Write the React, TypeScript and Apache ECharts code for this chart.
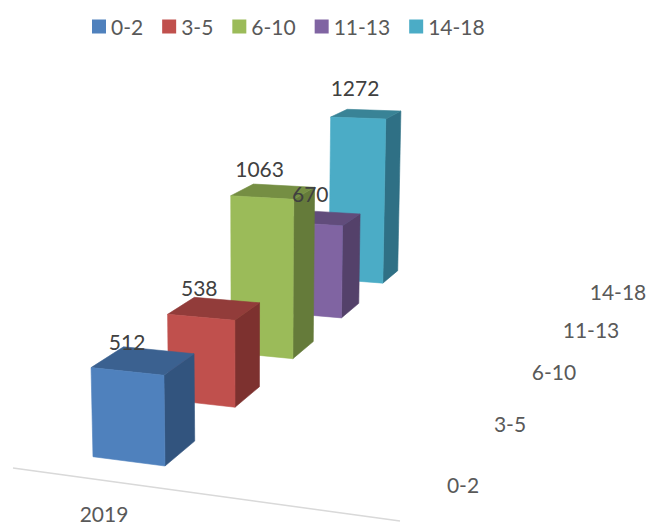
import React, { useEffect, useRef } from "react";
import * as echarts from "echarts";

const seriesNames = ["0-2", "3-5", "6-10", "11-13", "14-18"];
const values2019 = [512, 538, 1063, 670, 1272];
const categoryLabel = "2019";

const frontColors = ["#4F81BD", "#C0504D", "#9BBB59", "#8064A2", "#4BACC6"];
const topColors = ["#3B6190", "#923C3A", "#758E43", "#614C7B", "#398396"];
const sideColors = ["#32547E", "#7D312F", "#657B3A", "#54416A", "#2F7085"];

// Perspective camera fitted to the picture: floor origin and three vanishing points
const origin = [165, 466];
const vpWidth = [-3600, -20];
const vpHeight = [250, 7700];
const vpDepth = [900, -151];
const mWidth = 0.0195;
const mHeight = -1.129e-4;
const mDepth = 0.1053;
const barWidth = 1.0;
const barDepth = 0.4;

function project(x: number, y: number, z: number): number[] {
  const w = 1 + mWidth * x + mHeight * y + mDepth * z;
  const px = origin[0] + mWidth * x * vpWidth[0] + mHeight * y * vpHeight[0] + mDepth * z * vpDepth[0];
  const py = origin[1] + mWidth * x * vpWidth[1] + mHeight * y * vpHeight[1] + mDepth * z * vpDepth[1];
  return [px / w, py / w];
}

const FONT = "Lato, Carlito, Calibri, sans-serif";

function renderBar(seriesIdx: number) {
  return (_params: any, api: any) => {
    const z = api.value(0) as number;
    const value = api.value(1) as number;
    const h = api.size([0, value])[1] as number;
    const z1 = z + barDepth;
    const ftl = project(barWidth, h, z);
    const ftr = project(0, h, z);
    const fbl = project(barWidth, 0, z);
    const fbr = project(0, 0, z);
    const btl = project(barWidth, h, z1);
    const btr = project(0, h, z1);
    const bbr = project(0, 0, z1);
    const topCenter = project(barWidth / 2, h, z + barDepth / 2);
    const layer = (5 - seriesIdx) * 10;
    const face = (points: number[][], color: string, z2: number) => ({
      type: "polygon",
      z2,
      shape: { points },
      style: { fill: color, stroke: color, lineWidth: 0.6 },
    });
    return {
      type: "group",
      children: [
        face([ftr, btr, bbr, fbr], sideColors[seriesIdx], layer),
        face([ftl, btl, btr, ftr], topColors[seriesIdx], layer + 1),
        face([ftl, ftr, fbr, fbl], frontColors[seriesIdx], layer + 2),
        {
          type: "text",
          z2: 200,
          x: topCenter[0] - 16 + 1.25 * z,
          y: topCenter[1] - 19.5 - 1.7 * z,
          style: {
            text: String(value),
            fill: "#404040",
            font: `21px ${FONT}`,
            align: "center",
            verticalAlign: "middle",
          },
        },
      ],
    };
  };
}

const depthLabelCenters = [
  [463, 484],
  [510, 423],
  [554, 371],
  [591, 329],
  [618, 291],
];

export default function App() {
  const ref = useRef<HTMLDivElement>(null);
  useEffect(() => {
    const chart = echarts.init(ref.current!, null, { renderer: "svg" });
    const axisText = (text: string, c: number[]) => ({
      type: "text",
      x: c[0],
      y: c[1],
      style: {
        text,
        fill: "#595959",
        font: `21px ${FONT}`,
        align: "center",
        verticalAlign: "middle",
      },
    });
    chart.setOption({
      animation: false,
      backgroundColor: "#fff",
      grid: { left: 0, top: 100, width: 300, height: 300 },
      xAxis: { type: "category", data: seriesNames, show: false },
      yAxis: { type: "value", min: 0, max: 1400, show: false },
      legend: {
        left: 87,
        top: 11,
        icon: "rect",
        itemWidth: 14,
        itemHeight: 14,
        itemGap: 19,
        data: seriesNames,
        textStyle: { color: "#595959", fontFamily: FONT, fontSize: 21 },
      },
      series: seriesNames.map((name, i) => ({
        type: "custom",
        name,
        coordinateSystem: "cartesian2d",
        itemStyle: { color: frontColors[i] },
        encode: { x: 0, y: 1 },
        data: [[i, values2019[i]]],
        renderItem: renderBar(i),
      })),
      graphic: [
        {
          type: "line",
          shape: { x1: 13, y1: 468, x2: 400, y2: 521 },
          style: { stroke: "#D9D9D9", lineWidth: 1.5 },
        },
        axisText(categoryLabel, [104, 513.5]),
        ...seriesNames.map((n, i) => axisText(n, depthLabelCenters[i])),
      ],
    });
    return () => chart.dispose();
  }, []);
  return (
    <div
      ref={ref}
      style={{ position: "absolute", left: 0, top: 0, width: 648, height: 525 }}
    />
  );
}
